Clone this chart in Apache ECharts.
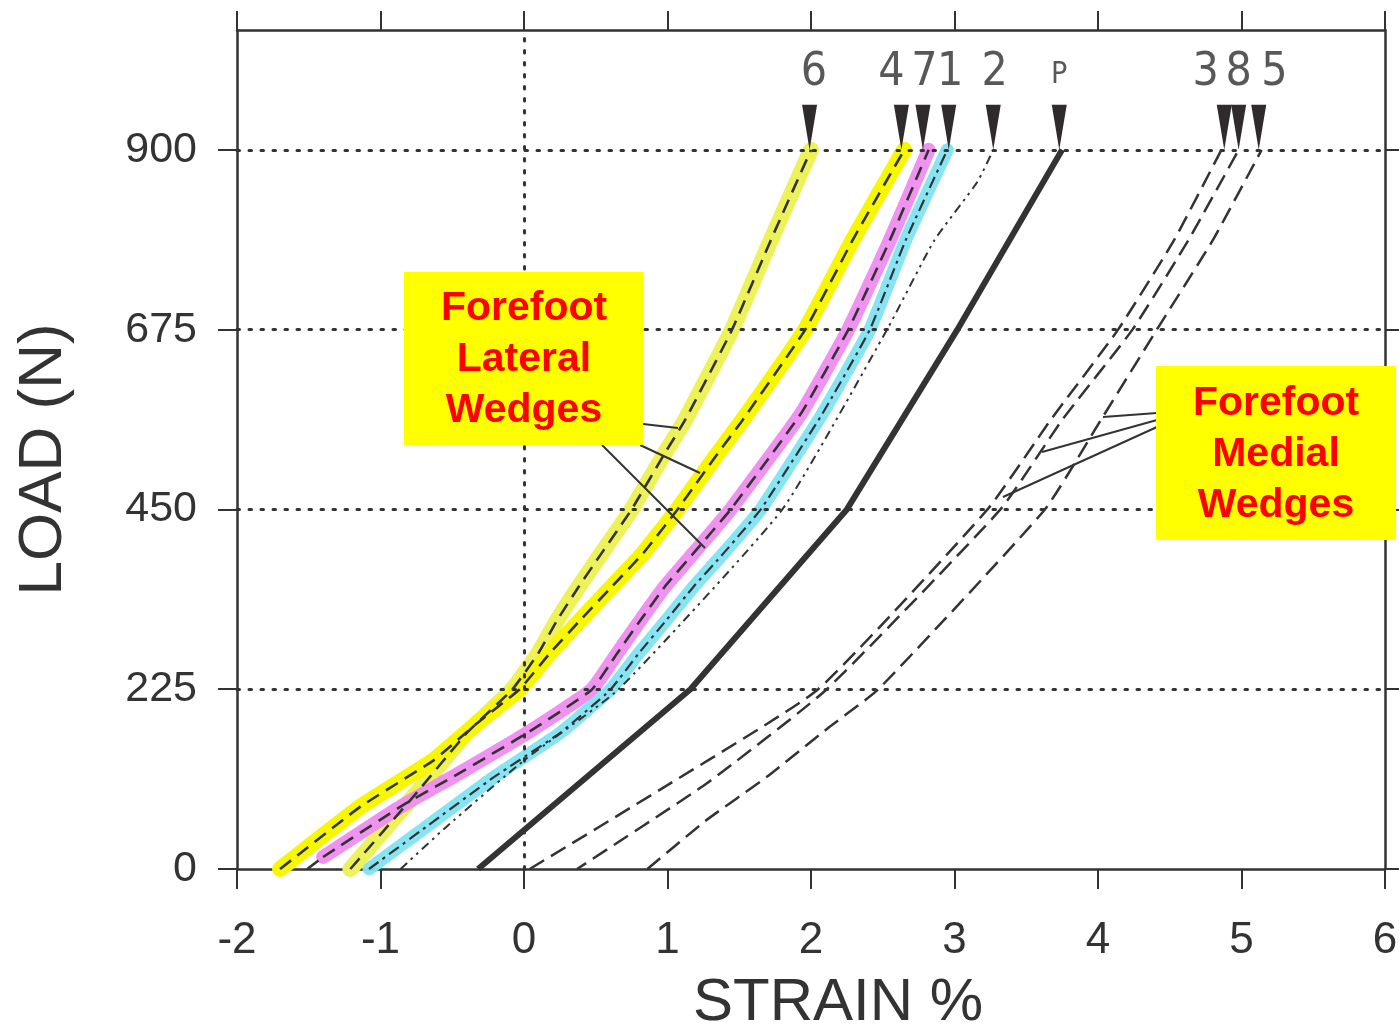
<!DOCTYPE html>
<html><head><meta charset="utf-8">
<script src="https://cdn.jsdelivr.net/npm/echarts@6/dist/echarts.min.js"></script>
<style>html,body{margin:0;padding:0;background:#fff}#c{width:1399px;height:1028px}</style>
</head><body><div id="c"></div>
<script>
// ---- data (strain %, load N) ----
const xTicks = [-2, -1, 0, 1, 2, 3, 4, 5, 6];
const yTicks = [0, 225, 450, 675, 900];
const gridLoads = [225, 450, 675, 900];
const gridStrain = [0];

const c6Load   = [0, 95, 170, 225, 270, 311, 353, 395, 450, 520, 561, 675, 787, 900];
const c6Strain = [-1.21, -0.75, -0.40, -0.08, 0.10, 0.23, 0.38, 0.54, 0.75, 0.98, 1.12, 1.45, 1.72, 2.00];
const c4Load   = [0, 78, 136, 182, 225, 270, 311, 353, 395, 450, 520, 561, 675, 787, 900];
const c4Strain = [-1.70, -1.14, -0.63, -0.33, -0.03, 0.18, 0.39, 0.61, 0.83, 1.07, 1.35, 1.52, 1.96, 2.29, 2.65];
const c7Load   = [15, 78, 120, 170, 224, 270, 311, 353, 395, 450, 570, 675, 787, 900];
const c7Strain = [-1.40, -0.86, -0.45, 0.02, 0.47, 0.65, 0.81, 0.98, 1.18, 1.44, 1.93, 2.26, 2.55, 2.82];
const c7TailLoad   = [0, 15];
const c7TailStrain = [-1.51, -1.40];
const c1Load   = [0, 53, 115, 170, 224, 270, 311, 353, 395, 450, 570, 675, 787, 900];
const c1Strain = [-1.08, -0.68, -0.21, 0.25, 0.60, 0.80, 0.99, 1.18, 1.39, 1.65, 2.08, 2.41, 2.66, 2.95];
const c2Load   = [0, 53, 136, 225, 450, 675, 787, 860, 900];
const c2Strain = [-0.86, -0.54, 0.0, 0.66, 1.80, 2.53, 2.86, 3.16, 3.27];
const pLoad    = [0, 225, 450, 675, 900];
const pStrain  = [-0.32, 1.16, 2.25, 3.02, 3.75];
const c3Load   = [0, 105, 225, 450, 562, 675, 787, 900];
const c3Strain = [0.04, 1.0, 2.05, 3.23, 3.67, 4.14, 4.53, 4.86];
const c8Load   = [0, 108, 225, 450, 562, 675, 787, 900];
const c8Strain = [0.37, 1.28, 2.11, 3.32, 3.75, 4.24, 4.63, 4.98];
const c5Load   = [0, 61, 115, 178, 225, 450, 562, 675, 787, 900];
const c5Strain = [0.86, 1.27, 1.69, 2.13, 2.47, 3.63, 4.02, 4.41, 4.80, 5.14];

const markerNames  = ['6', '4', '7', '1', '2', 'P', '3', '8', '5'];
const markerStrain = [1.99, 2.63, 2.78, 2.96, 3.27, 3.73, 4.88, 4.98, 5.12];
const markerLoad   = 900;
const labelStrain  = [2.02, 2.56, 2.79, 2.97, 3.28, 3.73, 4.75, 4.98, 5.23];
const labelLoad    = [996, 996, 996, 996, 996, 993, 996, 996, 996];

// ---- chart ----
const INK = '#333';
const pts = (s, l) => s.map((v, i) => [v, l[i]]);
function hl(data, color, width, opacity) {
  return { type: 'line', data, showSymbol: false, silent: true, z: 2, smooth: 0.12,
    lineStyle: { color, width, opacity, cap: 'round', join: 'round' } };
}
function ln(data, type, width, smooth, dashOffset) {
  return { type: 'line', data, showSymbol: false, silent: true, z: 4, smooth: smooth || 0,
    lineStyle: { color: INK, width, type, cap: 'butt', join: 'round', dashOffset: dashOffset || 0 } };
}
const dash = [14, 8];
const mdash = [17, 8];

const chart = echarts.init(document.getElementById('c'), null, { renderer: 'canvas' });
const FONT = 'Liberation Sans, Arial, sans-serif';
const NARROW = 'Liberation Sans Narrow, DejaVu Sans Condensed, Liberation Sans, sans-serif';

chart.setOption({
  animation: false,
  backgroundColor: '#fff',
  grid: { left: 237, right: 14, top: 30, bottom: 159, outerBoundsMode: 'none', containLabel: false },
  xAxis: [{
    type: 'value', position: 'bottom', min: -2, max: 6, interval: 1,
    axisLine: { onZero: false, lineStyle: { color: INK, width: 2.5 } },
    axisTick: { length: 20, lineStyle: { color: INK, width: 2 } },
    axisLabel: { fontSize: 44, color: INK, margin: 50, fontFamily: FONT },
    splitLine: { show: false },
    name: 'STRAIN %', nameLocation: 'middle', nameGap: 104,
    nameTextStyle: { fontSize: 60, color: INK, fontFamily: FONT, padding: [0, 0, 0, 54] }
  }, {
    type: 'value', position: 'top', min: -2, max: 6, interval: 1,
    axisLine: { onZero: false, lineStyle: { color: INK, width: 2.5 } },
    axisTick: { length: 19, lineStyle: { color: INK, width: 2 } },
    axisLabel: { show: false }, splitLine: { show: false }
  }],
  yAxis: [{
    type: 'value', position: 'left', min: 0, max: 1050,
    axisLine: { onZero: false, lineStyle: { color: INK, width: 2.5 } },
    axisTick: { length: 19, customValues: yTicks, lineStyle: { color: INK, width: 2 } },
    axisLabel: { customValues: yTicks, fontSize: 43, color: INK, margin: 40, fontFamily: FONT },
    splitLine: { show: false },
    name: 'LOAD (N)', nameLocation: 'middle', nameGap: 162,
    nameTextStyle: { fontSize: 62, color: INK, fontFamily: FONT, padding: [0, 20, 0, 0] }
  }, {
    type: 'value', position: 'right', min: 0, max: 1050,
    axisLine: { onZero: false, lineStyle: { color: INK, width: 2.5 } },
    axisTick: { length: 14, customValues: yTicks, lineStyle: { color: INK, width: 2 } },
    axisLabel: { show: false }, splitLine: { show: false }
  }],
  series: [
    { type: 'line', data: [], silent: true, z: 1,
      markLine: { silent: true, symbol: ['none', 'none'], label: { show: false },
        lineStyle: { color: INK, width: 3, type: [2.5, 9.5], cap: 'round' },
        data: gridLoads.map(v => ({ yAxis: v })).concat(gridStrain.map(v => ({ xAxis: v }))) } },
    // highlighter bands
    hl(pts(c6Strain, c6Load), '#eef25a', 16, 1),
    hl(pts(c4Strain, c4Load), '#f7f700', 16, 1),
    hl(pts(c7Strain, c7Load), '#ef8cef', 14, 0.95),
    hl(pts(c1Strain, c1Load), '#80e3f2', 13, 0.95),
    // black curves
    ln(pts(c6Strain, c6Load), dash, 2.6, 0.12),
    ln(pts(c4Strain, c4Load), dash, 2.6, 0.12),
    ln(pts(c7Strain, c7Load), dash, 2.6, 0.12),
    ln(pts(c7TailStrain, c7TailLoad), dash, 2.6),
    ln(pts(c1Strain, c1Load), [12, 5, 3, 5], 2.2, 0.12),
    ln(pts(c2Strain, c2Load), [9, 5, 2.5, 5, 2.5, 5], 2, 0.15),
    ln(pts(pStrain, pLoad), 'solid', 6),
    ln(pts(c3Strain, c3Load), mdash, 2.5, 0.15),
    ln(pts(c8Strain, c8Load), mdash, 2.5, 0.15, 6),
    ln(pts(c5Strain, c5Load), mdash, 2.5, 0.15),
    // arrow markers
    { type: 'scatter', silent: true, z: 6,
      data: markerStrain.map(v => [v, markerLoad]),
      symbol: 'path://M0,0 L10,0 L5,30 Z', symbolSize: [15, 45], symbolOffset: [0, '-50%'],
      itemStyle: { color: '#2f2b2d', opacity: 1 } },
    { type: 'scatter', silent: true, z: 6, symbolSize: 1,
      itemStyle: { color: 'rgba(0,0,0,0)' },
      data: markerNames.map((n, i) => ({ name: n, value: [labelStrain[i], labelLoad[i]],
        label: { fontSize: n === 'P' ? 30 : 46 } })),
      label: { show: true, position: 'inside', formatter: p => p.name, color: '#2e2e2e', fontFamily: NARROW } }
  ],
  graphic: [
    { type: 'polyline', z: 90, shape: { points: [[643, 424], [678, 428]] }, style: { stroke: INK, lineWidth: 2, fill: null } },
    { type: 'polyline', z: 90, shape: { points: [[640, 445], [700, 473]] }, style: { stroke: INK, lineWidth: 2, fill: null } },
    { type: 'polyline', z: 90, shape: { points: [[602, 445], [705, 548]] }, style: { stroke: INK, lineWidth: 2, fill: null } },
    { type: 'polyline', z: 90, shape: { points: [[1157, 413], [1103, 417]] }, style: { stroke: INK, lineWidth: 2, fill: null } },
    { type: 'polyline', z: 90, shape: { points: [[1157, 420], [1042, 452]] }, style: { stroke: INK, lineWidth: 2, fill: null } },
    { type: 'polyline', z: 90, shape: { points: [[1157, 427], [1003, 497]] }, style: { stroke: INK, lineWidth: 2, fill: null } },
    { type: 'rect', z: 100, shape: { x: 404, y: 272, width: 239, height: 173 }, style: { fill: '#ffff00' } },
    { type: 'text', z: 101, x: 524, y: 360,
      style: { text: 'Forefoot\nLateral\nWedges', fill: '#ff0000', font: 'bold 41px ' + FONT,
        align: 'center', verticalAlign: 'middle', lineHeight: 51 } },
    { type: 'rect', z: 100, shape: { x: 1156, y: 366, width: 240, height: 174 }, style: { fill: '#ffff00' } },
    { type: 'text', z: 101, x: 1276, y: 455,
      style: { text: 'Forefoot\nMedial\nWedges', fill: '#ff0000', font: 'bold 41px ' + FONT,
        align: 'center', verticalAlign: 'middle', lineHeight: 51 } }
  ]
});
</script></body></html>
